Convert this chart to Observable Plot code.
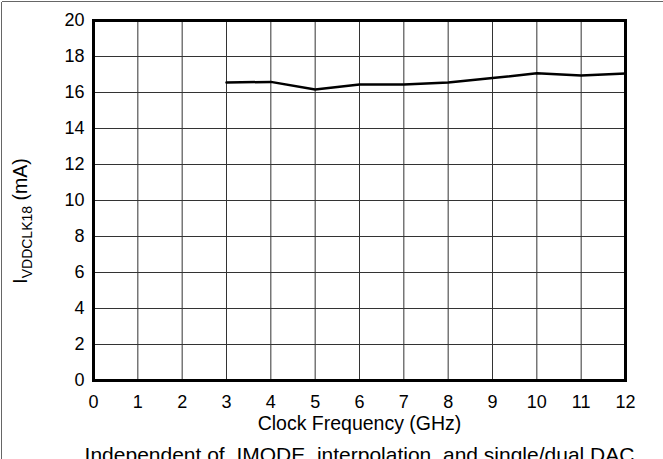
<!DOCTYPE html>
<html>
<head>
<meta charset="utf-8">
<script src="https://cdn.jsdelivr.net/npm/d3@7"></script>
<script src="https://cdn.jsdelivr.net/npm/@observablehq/plot@0.6"></script>
<style>
  html, body { margin: 0; padding: 0; background: #fff; }
  #chart { width: 663px; height: 459px; overflow: hidden; }
</style>
</head>
<body>
<div id="chart"></div>
<script>
const freqGHz = [3, 4, 5, 6, 7, 8, 9, 10, 11, 12];
const currentMA = [16.55, 16.59, 16.17, 16.44, 16.44, 16.56, 16.8, 17.07, 16.94, 17.05];
const xTicks = [0, 1, 2, 3, 4, 5, 6, 7, 8, 9, 10, 11, 12];
const yTicks = [0, 2, 4, 6, 8, 10, 12, 14, 16, 18, 20];
const xLabel = "Clock Frequency (GHz)";
const caption = "Independent of  IMODE, interpolation, and single/dual DAC";

const data = freqGHz.map((f, i) => ({f, c: currentMA[i]}));
const font = "'Liberation Sans', Arial, sans-serif";

const svg = Plot.plot({
  width: 663,
  height: 459,
  marginLeft: 93,
  marginRight: 38,
  marginTop: 20,
  marginBottom: 79,
  style: {fontFamily: font, fontSize: "18px", color: "#000", background: "#fff", overflow: "hidden"},
  x: {domain: [0, 12], label: null},
  y: {domain: [0, 20], label: null},
  marks: [
    Plot.gridX(xTicks, {stroke: "#333", strokeOpacity: 1, strokeWidth: 1}),
    Plot.gridY(yTicks, {stroke: "#333", strokeOpacity: 1, strokeWidth: 1}),
    Plot.line(data, {x: "f", y: "c", stroke: "#000", strokeWidth: 2.5}),
    Plot.frame({stroke: "#000", strokeWidth: 3}),
    Plot.axisX(xTicks, {tickSize: 0, tickPadding: 15, fontSize: 18, label: null}),
    Plot.axisY(yTicks, {tickSize: 0, tickPadding: 9, fontSize: 18, label: null}),
    Plot.text([xLabel], {frameAnchor: "bottom", dy: 36, lineAnchor: "top", fontSize: 19.5}),
    Plot.text([caption], {frameAnchor: "bottom", dy: 67, lineAnchor: "top", fontSize: 21})
  ]
});

const s = d3.select(svg);
// outer border
s.append("line").attr("x1", 2).attr("x2", 663).attr("y1", 1.5).attr("y2", 1.5).attr("stroke", "#666").attr("stroke-width", 1);
s.append("line").attr("x1", 1.5).attr("x2", 1.5).attr("y1", 2).attr("y2", 459).attr("stroke", "#666").attr("stroke-width", 1);
// y-axis label with subscript
const yl = s.append("text")
  .attr("transform", "translate(27,221) rotate(-90)")
  .attr("text-anchor", "middle")
  .attr("font-family", font)
  .attr("font-size", 19.5)
  .attr("fill", "#000");
yl.append("tspan").text("I");
yl.append("tspan").attr("font-size", 14).attr("dy", 5).text("VDDCLK18");
yl.append("tspan").attr("dy", -5).text(" (mA)");

document.getElementById("chart").appendChild(svg);
</script>
</body>
</html>
